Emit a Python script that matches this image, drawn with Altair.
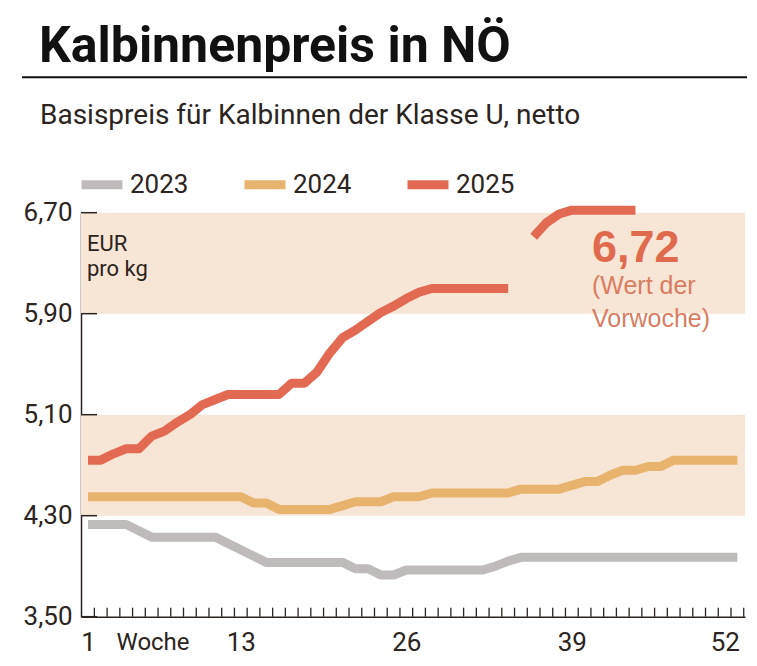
import altair as alt
import pandas as pd

# ---------------- data ----------------
weeks = list(range(1, 53))
years = ["2023", "2024", "2025"]

p2023 = [4.23, 4.23, 4.23, 4.23, 4.18, 4.13, 4.13, 4.13, 4.13, 4.13,
         4.13, 4.08, 4.03, 3.98, 3.93, 3.93, 3.93, 3.93, 3.93, 3.93,
         3.93, 3.88, 3.88, 3.83, 3.83, 3.87, 3.87, 3.87, 3.87, 3.87,
         3.87, 3.87, 3.90, 3.94, 3.97, 3.97, 3.97, 3.97, 3.97, 3.97,
         3.97, 3.97, 3.97, 3.97, 3.97, 3.97, 3.97, 3.97, 3.97, 3.97,
         3.97, 3.97]
p2024 = [4.45, 4.45, 4.45, 4.45, 4.45, 4.45, 4.45, 4.45, 4.45, 4.45,
         4.45, 4.45, 4.45, 4.40, 4.40, 4.35, 4.35, 4.35, 4.35, 4.35,
         4.38, 4.41, 4.41, 4.41, 4.45, 4.45, 4.45, 4.48, 4.48, 4.48,
         4.48, 4.48, 4.48, 4.48, 4.51, 4.51, 4.51, 4.51, 4.54, 4.57,
         4.57, 4.62, 4.66, 4.66, 4.69, 4.69, 4.74, 4.74, 4.74, 4.74,
         4.74, 4.74]
p2025 = [4.74, 4.74, 4.79, 4.83, 4.83, 4.93, 4.97, 5.04, 5.10, 5.18,
         5.22, 5.26, 5.26, 5.26, 5.26, 5.26, 5.35, 5.35, 5.44, 5.59,
         5.71, 5.77, 5.84, 5.91, 5.96, 6.02, 6.07, 6.10, 6.10, 6.10,
         6.10, 6.10, 6.10, 6.10, None, 6.51, 6.62, 6.69, 6.72, 6.72,
         6.72, 6.72, 6.72, 6.72, None, None, None, None, None, None,
         None, None]

y_ticks = [3.50, 4.30, 5.10, 5.90, 6.70]
x_labels = [1, 13, 26, 39, 52]
band_lo = [4.30, 5.90]
band_hi = [5.10, 6.70]
week_edges = [w + 0.5 for w in weeks]

colors = ["#bfbbba", "#e8b36c", "#e26a52"]
dark = "#2b2420"
band_color = "#f7e6d5"
FONT = "Roboto"
wide = "Liberation Sans"

W, H = 664, 404

rows = []
for yr, vals in zip(years, [p2023, p2024, p2025]):
    seg = 0
    for w, v in zip(weeks, vals):
        if v is None:
            seg += 1
            continue
        rows.append({"Woche": w, "Preis": v, "Jahr": yr, "Teil": f"{yr}-{seg}"})
df = pd.DataFrame(rows)

xscale = alt.Scale(domain=[0.45, 52.6], nice=False, zero=False)
yscale = alt.Scale(domain=[3.5, 6.7], nice=False, zero=False)

xaxis = alt.Axis(values=x_labels, grid=False, ticks=False, domainColor=dark, title=None,
                 domainWidth=1.5, labelFont=FONT, labelFontSize=26,
                 labelColor=dark, labelPadding=13, labelFlush=False,
                 labelAlign=alt.condition("datum.value == 52", alt.value("right"), alt.value("center")),
                 labelOffset=alt.condition("datum.value == 52", alt.value(2), alt.value(0)))
yaxis = alt.Axis(values=y_ticks, grid=False, ticks=False, domainColor=dark, title=None,
                 domainWidth=1.5, labelFont=FONT, labelFontSize=26,
                 labelColor=dark, labelPadding=9,
                 labelExpr="replace(format(datum.value, '.2f'), '.', ',')")

bands = alt.Chart(pd.DataFrame({"lo": band_lo, "hi": band_hi})).mark_rect(
    color=band_color).encode(
    y=alt.Y("lo:Q", scale=yscale, axis=yaxis), y2="hi:Q",
    x=alt.value(0), x2=alt.value(W))

lines = alt.Chart(df).mark_line(strokeWidth=9, strokeCap="butt", strokeJoin="round").encode(
    x=alt.X("Woche:Q", scale=xscale, axis=xaxis),
    y=alt.Y("Preis:Q", scale=yscale, axis=yaxis),
    color=alt.Color("Jahr:N", scale=alt.Scale(domain=years, range=colors),
                    legend=alt.Legend(orient="none", legendX=-4, legendY=-53, direction="horizontal",
                                      title=None, symbolType="stroke", symbolSize=1681,
                                      symbolStrokeWidth=9, labelFont=FONT, labelFontSize=26,
                                      labelColor=dark, labelOffset=3, columnPadding=37,
                                      padding=0)),
    detail="Teil:N",
    order="Woche:Q",
)

xt = alt.Chart(pd.DataFrame({"t": week_edges})).mark_rule(color=dark, strokeWidth=1.3).encode(
    x=alt.X("t:Q", scale=xscale, axis=xaxis), y=alt.value(H - 9), y2=alt.value(H))
yt = alt.Chart(pd.DataFrame({"v": y_ticks})).mark_rule(color=dark, strokeWidth=1.5).encode(
    y=alt.Y("v:Q", scale=yscale, axis=yaxis), x=alt.value(0), x2=alt.value(16))

one = alt.Data(values=[{}])


def txt(s, x, y, size, weight="normal", color=dark, font=FONT, align="left"):
    return alt.Chart(one).mark_text(text=s, font=font, fontSize=size, fontWeight=weight,
                                    color=color, align=align, baseline="alphabetic").encode(
        x=alt.value(x), y=alt.value(y))


title = txt("Kalbinnenpreis in NÖ", -42, -151, 50, weight="bold", color="#111111")
rule = alt.Chart(one).mark_rule(color="#111111", strokeWidth=2).encode(
    x=alt.value(-59), x2=alt.value(666), y=alt.value(-135.5))
subtitle = txt("Basispreis für Kalbinnen der Klasse U, netto", -41, -89, 28)
unit1 = txt("EUR", 6, 38, 22)
unit2 = txt("pro kg", 6, 63, 22)
val = txt("6,72", 511, 49, 45, weight="bold", color="#e06a4e", font=wide)
note1 = txt("(Wert der", 511, 81, 25, color="#d97c62", font=wide)
note2 = txt("Vorwoche)", 511, 114, 25, color="#d97c62", font=wide)
woche = txt("Woche", 72, 437, 24, align="center")

chart = alt.layer(bands, xt, yt, lines, title, rule, subtitle, unit1, unit2, val, note1, note2, woche).properties(
    width=W, height=H,
    autosize=alt.AutoSizeParams(type="none"),
    padding={"left": 73, "top": 204.7, "right": 4, "bottom": 41},
).configure_view(stroke=None)

chart.save("out.html", embed_options={"renderer": "svg", "actions": False})
